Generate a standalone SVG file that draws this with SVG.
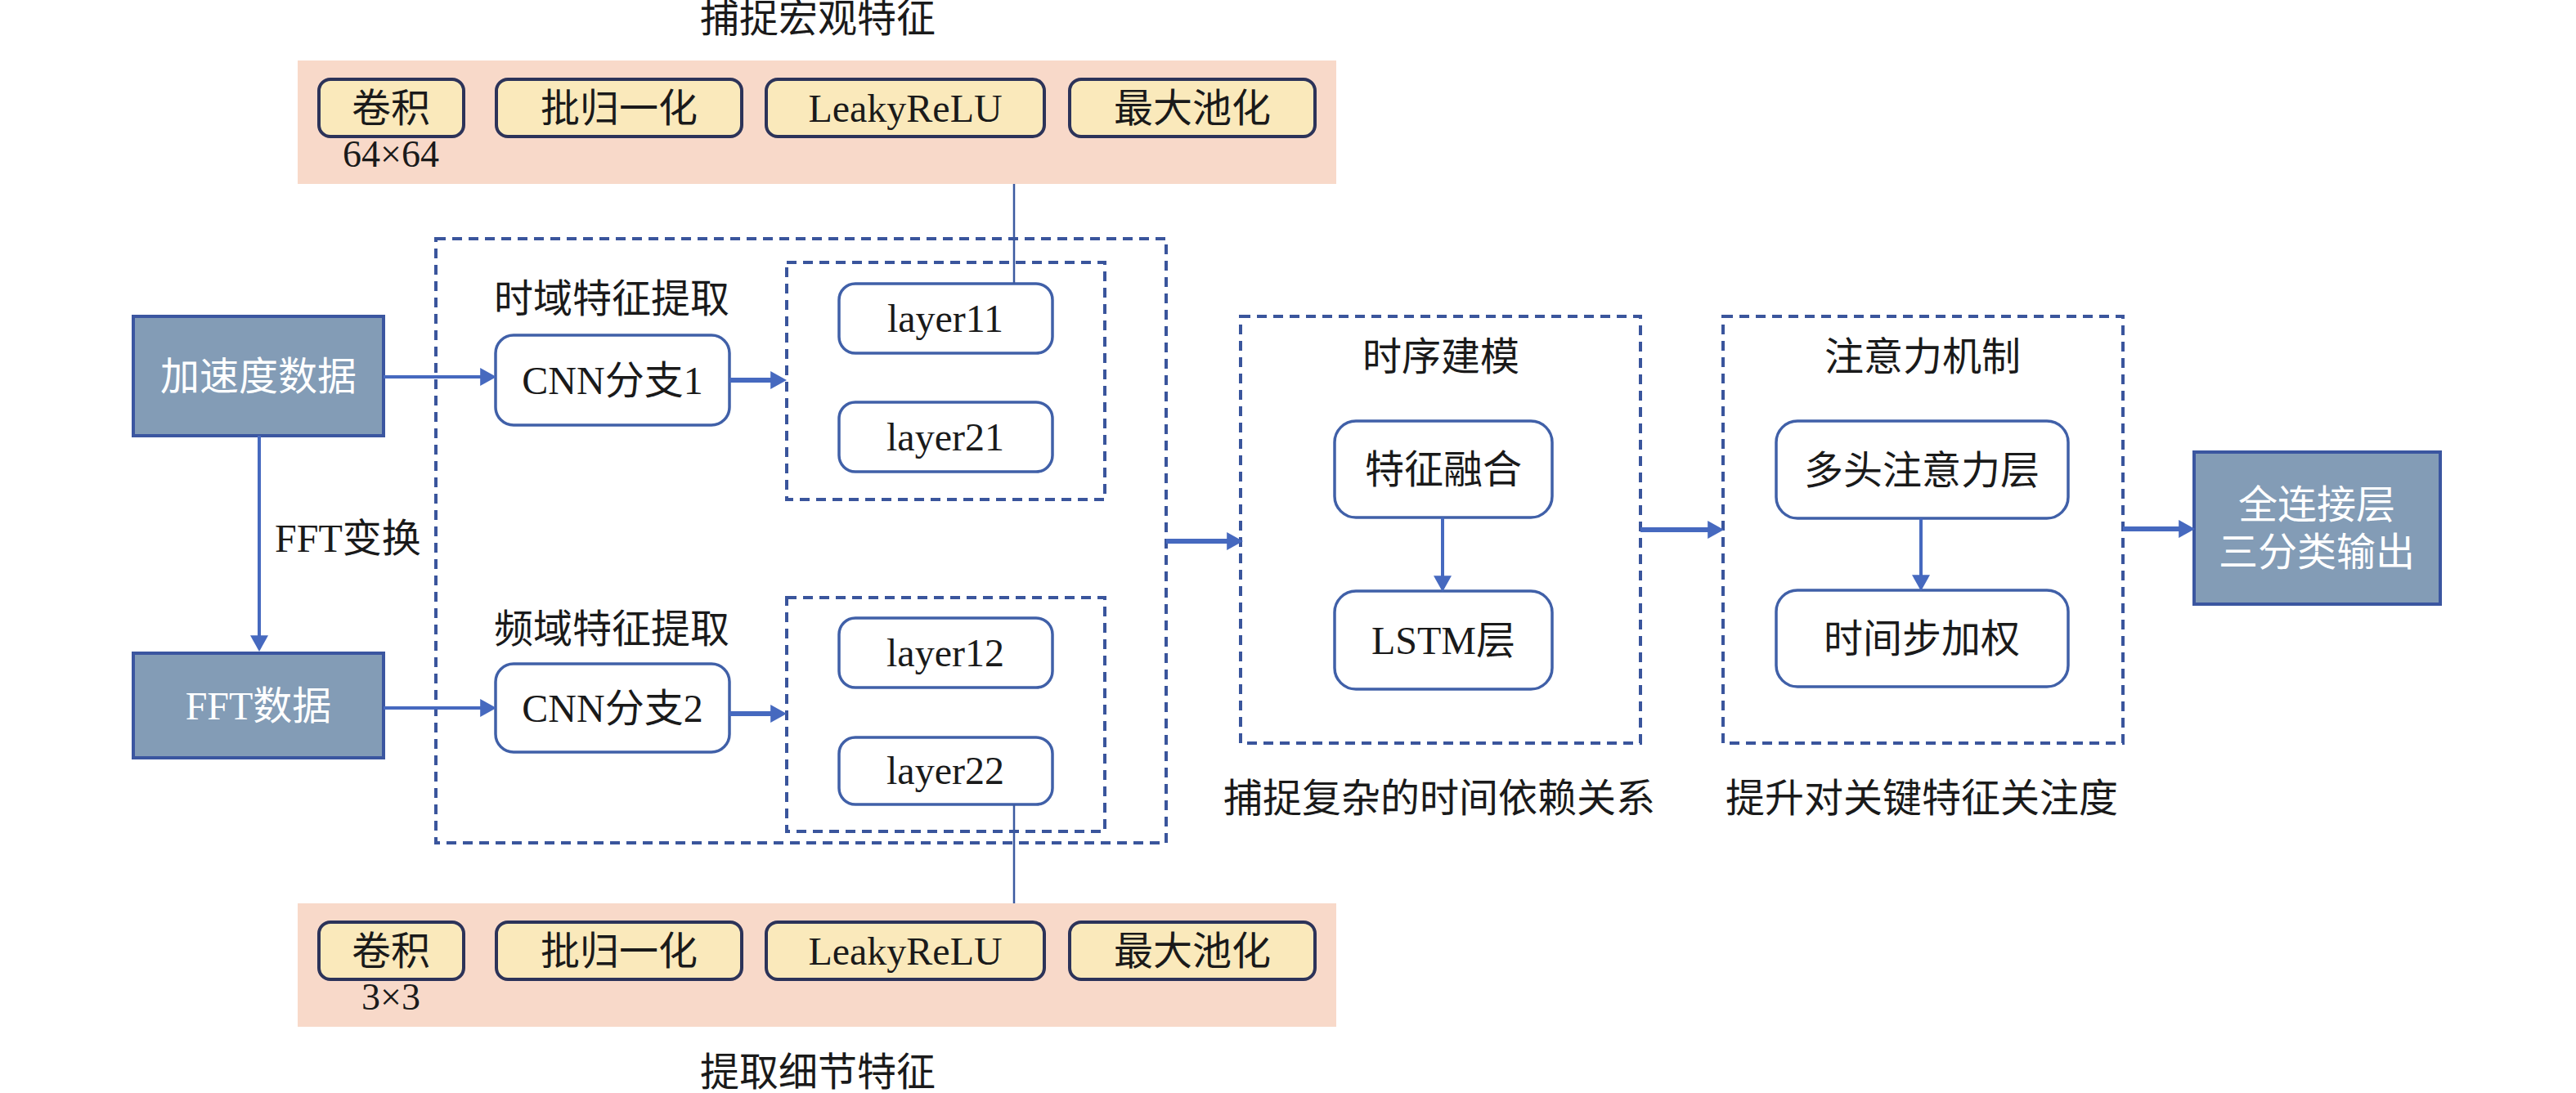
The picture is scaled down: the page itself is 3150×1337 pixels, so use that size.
<svg xmlns="http://www.w3.org/2000/svg" width="3150" height="1337" viewBox="0 0 3150 1337">
<defs>
<marker id="ah" markerUnits="userSpaceOnUse" markerWidth="20" markerHeight="22" viewBox="0 0 18 20" refX="8" refY="10" orient="auto">
<path d="M0,0 L18,10 L0,20 z" fill="#4669bf"/>
</marker>
<style>
text{font-family:"Liberation Serif","Noto Sans CJK SC",serif;font-size:48px;fill:#1a1a1a;text-anchor:middle}
.band{fill:#f8d9c9}
.ybox{fill:#fae9bb;stroke:#2c3359;stroke-width:4}
.rbox{fill:#ffffff;stroke:#4060a8;stroke-width:3.5}
.sbox{fill:#839cb6;stroke:#3b56a0;stroke-width:4}
.dash{fill:none;stroke:#3a559c;stroke-width:4;stroke-dasharray:12 8}
.wt{fill:#ffffff}
.arr{fill:none;stroke:#4669bf;stroke-width:4;marker-end:url(#ah)}
.thk{stroke-width:6}
.thin{fill:none;stroke:#3b5aa0;stroke-width:2.5}
</style>
</defs>
<rect width="3150" height="1337" fill="#ffffff"/>

<g id="top-band">
<rect class="band" x="364" y="74" width="1270" height="151"/>
<text x="1000" y="39">捕捉宏观特征</text>
<rect class="ybox" x="390" y="97" width="177" height="70" rx="14"/>
<text x="478" y="149">卷积</text>
<rect class="ybox" x="607" y="97" width="300" height="70" rx="14"/>
<text x="757" y="149">批归一化</text>
<rect class="ybox" x="937" y="97" width="340" height="70" rx="14"/>
<text x="1107" y="149">LeakyReLU</text>
<rect class="ybox" x="1308" y="97" width="300" height="70" rx="14"/>
<text x="1458" y="149">最大池化</text>
<text x="478" y="204" style="font-size:46px">64×64</text>
</g>

<g id="bottom-band">
<rect class="band" x="364" y="1105" width="1270" height="151"/>
<rect class="ybox" x="390" y="1128" width="177" height="70" rx="14"/>
<text x="478" y="1180">卷积</text>
<rect class="ybox" x="607" y="1128" width="300" height="70" rx="14"/>
<text x="757" y="1180">批归一化</text>
<rect class="ybox" x="937" y="1128" width="340" height="70" rx="14"/>
<text x="1107" y="1180">LeakyReLU</text>
<rect class="ybox" x="1308" y="1128" width="300" height="70" rx="14"/>
<text x="1458" y="1180">最大池化</text>
<text x="478" y="1235" style="font-size:46px">3×3</text>
<text x="1000" y="1328">提取细节特征</text>
</g>

<g id="cnn-group">
<rect class="dash" x="533" y="292" width="893" height="739"/>
<text x="748" y="382">时域特征提取</text>
<text x="748" y="786">频域特征提取</text>
</g>
<g id="inner1"><rect class="dash" x="962" y="321" width="389" height="290"/></g>
<g id="inner2"><rect class="dash" x="962" y="731" width="389" height="286"/></g>

<g id="acc"><rect class="sbox" x="163" y="387" width="306" height="146"/><text class="wt" x="316" y="477">加速度数据</text></g>
<g id="fft"><rect class="sbox" x="163" y="799" width="306" height="128"/><text class="wt" x="316" y="880">FFT数据</text></g>
<text x="336" y="675" style="text-anchor:start">FFT变换</text>

<g id="cnn1"><rect class="rbox" x="606" y="410" width="286" height="110" rx="22"/><text x="749" y="482">CNN分支1</text></g>
<g id="cnn2"><rect class="rbox" x="606" y="812" width="286" height="108" rx="22"/><text x="749" y="883">CNN分支2</text></g>
<g id="layer11"><rect class="rbox" x="1026" y="347" width="261" height="85" rx="20"/><text x="1156" y="406">layer11</text></g>
<g id="layer21"><rect class="rbox" x="1026" y="492" width="261" height="85" rx="20"/><text x="1156" y="551">layer21</text></g>
<g id="layer12"><rect class="rbox" x="1026" y="756" width="261" height="85" rx="20"/><text x="1156" y="815">layer12</text></g>
<g id="layer22"><rect class="rbox" x="1026" y="902" width="261" height="82" rx="20"/><text x="1156" y="959">layer22</text></g>

<g id="temporal">
<rect class="dash" x="1517" y="387" width="489" height="522"/>
<text x="1762" y="453">时序建模</text>
<text x="1760" y="993">捕捉复杂的时间依赖关系</text>
</g>
<g id="fusion"><rect class="rbox" x="1632" y="515" width="266" height="118" rx="26"/><text x="1765" y="591">特征融合</text></g>
<g id="lstm"><rect class="rbox" x="1632" y="723" width="266" height="120" rx="26"/><text x="1765" y="800">LSTM层</text></g>

<g id="attention">
<rect class="dash" x="2107" y="387" width="489" height="522"/>
<text x="2351" y="453">注意力机制</text>
<text x="2350" y="993">提升对关键特征关注度</text>
</g>
<g id="mha"><rect class="rbox" x="2172" y="515" width="357" height="119" rx="26"/><text x="2350" y="592">多头注意力层</text></g>
<g id="tsw"><rect class="rbox" x="2172" y="722" width="357" height="118" rx="26"/><text x="2350" y="798">时间步加权</text></g>

<g id="output"><rect class="sbox" x="2683" y="553" width="301" height="186"/>
<text class="wt" x="2833" y="634">全连接层</text>
<text class="wt" x="2833" y="692">三分类输出</text></g>

<g id="connectors">
<line class="thin" x1="1240" y1="225" x2="1240" y2="347"/>
<line class="thin" x1="1240" y1="984" x2="1240" y2="1105"/>
<line class="arr" x1="317" y1="533" x2="317" y2="786"/>
<line class="arr" x1="469" y1="461" x2="596" y2="461"/>
<line class="arr thk" x1="892" y1="465" x2="951" y2="465"/>
<line class="arr" x1="469" y1="866" x2="596" y2="866"/>
<line class="arr thk" x1="892" y1="873" x2="951" y2="873"/>
<line class="arr thk" x1="1426" y1="662" x2="1509" y2="662"/>
<line class="arr thk" x1="2006" y1="648" x2="2097" y2="648"/>
<line class="arr thk" x1="2596" y1="647" x2="2673" y2="647"/>
<line class="arr" x1="1764" y1="633" x2="1764" y2="713"/>
<line class="arr" x1="2349" y1="634" x2="2349" y2="712"/>
</g>
</svg>
